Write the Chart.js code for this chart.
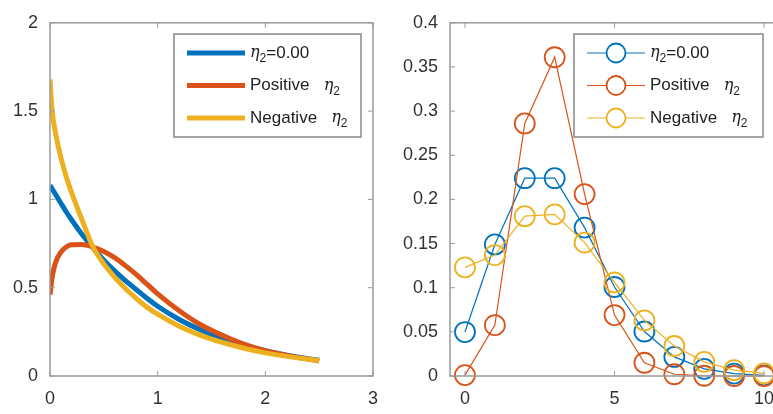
<!DOCTYPE html>
<html>
<head>
<meta charset="utf-8">
<script src="https://cdn.jsdelivr.net/npm/chart.js@4.4.1/dist/chart.umd.min.js"></script>
<style>
  html, body { margin: 0; padding: 0; background: #fff; overflow: hidden; }
  #wrap { position: relative; width: 773px; height: 414px; overflow: hidden; }
  #left { position: absolute; left: 0; top: 0; }
  #right { position: absolute; left: 390px; top: 0; }
</style>
</head>
<body>
<div id="wrap">
  <canvas id="left" width="390" height="414"></canvas>
  <canvas id="right" width="410" height="414"></canvas>
</div>
<script>
// left panel: continuous curves
const curveX = [0, 0.02, 0.05, 0.1, 0.15, 0.2, 0.3, 0.4, 0.5, 0.6, 0.7, 0.8, 0.9, 1.0, 1.2, 1.4, 1.6, 1.8, 2.0, 2.2, 2.5];
const curveZero = [1.08, 1.06, 1.03, 0.98, 0.93, 0.885, 0.80, 0.725, 0.655, 0.595, 0.54, 0.49, 0.44, 0.395, 0.32, 0.26, 0.212, 0.174, 0.143, 0.118, 0.089];
const curvePos = [0.46, 0.56, 0.64, 0.70, 0.73, 0.743, 0.745, 0.73, 0.705, 0.67, 0.625, 0.575, 0.52, 0.465, 0.37, 0.29, 0.23, 0.18, 0.143, 0.117, 0.085];
const curveNeg = [1.68, 1.50, 1.38, 1.24, 1.13, 1.04, 0.88, 0.73, 0.635, 0.56, 0.495, 0.44, 0.39, 0.35, 0.282, 0.23, 0.19, 0.157, 0.131, 0.111, 0.088];

// right panel: discrete probabilities
const countX = [0, 1, 2, 3, 4, 5, 6, 7, 8, 9, 10];
const probZero = [0.0498, 0.149, 0.224, 0.224, 0.168, 0.1008, 0.0504, 0.0216, 0.0081, 0.0027, 0.0008];
const probPos = [0.001, 0.0576, 0.286, 0.361, 0.206, 0.069, 0.015, 0.002, 0.0003, 0, 0];
const probNeg = [0.123, 0.137, 0.181, 0.183, 0.151, 0.106, 0.063, 0.034, 0.016, 0.0066, 0.003];

const seriesLabels = ["η₂=0.00", "Positive   η₂", "Negative   η₂"];
const colors = ["#0072BD", "#D95319", "#EDB120"];

const leftTicksX = [0, 1, 2, 3];
const leftTicksY = [0, 0.5, 1, 1.5, 2];
const rightTicksX = [0, 5, 10];
const rightTicksY = [0, 0.05, 0.1, 0.15, 0.2, 0.25, 0.3, 0.35, 0.4];

const FONT = "'Liberation Sans', Arial, sans-serif";

const pts = (xs, ys) => xs.map((x, i) => ({ x: x, y: ys[i] }));

// draws a label, replacing "η₂" with an italic eta and a lowered 2
function drawLabel(ctx, text, x, y) {
  const parts = text.split("η₂");
  let cx = x;
  ctx.textBaseline = "middle";
  ctx.textAlign = "left";
  parts.forEach((p, i) => {
    if (i > 0) {
      ctx.font = "italic 16px 'DejaVu Serif', serif";
      ctx.fillText("η", cx, y);
      cx += ctx.measureText("η").width;
      ctx.font = "12px " + FONT;
      ctx.fillText("2", cx, y + 6);
      cx += ctx.measureText("2").width;
    }
    if (p.length) {
      ctx.font = "17px " + FONT;
      ctx.fillStyle = "#222";
      ctx.fillText(p, cx, y);
      cx += ctx.measureText(p).width;
    }
  });
}

// box, inward ticks and legend
const frame = {
  id: "frame",
  afterDatasetsDraw(chart, args, opts) {
    const ctx = chart.ctx;
    const a = chart.chartArea;
    const sx = chart.scales.x, sy = chart.scales.y;
    ctx.save();
    ctx.strokeStyle = "#9a9a9a";
    ctx.lineWidth = 1.5;
    ctx.strokeRect(a.left, a.top, a.right - a.left, a.bottom - a.top);
    ctx.lineWidth = 1;
    const t = 5;
    sx.ticks.forEach((tk) => {
      const px = sx.getPixelForValue(tk.value);
      ctx.beginPath();
      ctx.moveTo(px, a.bottom); ctx.lineTo(px, a.bottom - t);
      ctx.moveTo(px, a.top); ctx.lineTo(px, a.top + t);
      ctx.stroke();
    });
    sy.ticks.forEach((tk) => {
      const py = sy.getPixelForValue(tk.value);
      ctx.beginPath();
      ctx.moveTo(a.left, py); ctx.lineTo(a.left + t, py);
      ctx.moveTo(a.right, py); ctx.lineTo(a.right - t, py);
      ctx.stroke();
    });

    // legend
    const L = opts.box;
    ctx.fillStyle = "#fff";
    ctx.fillRect(L.x, L.y, L.w, L.h);
    ctx.strokeStyle = "#888";
    ctx.lineWidth = 1.5;
    ctx.strokeRect(L.x, L.y, L.w, L.h);
    chart.data.datasets.forEach((ds, i) => {
      const ry = L.y + 19 + i * 32.5;
      ctx.strokeStyle = ds.borderColor;
      ctx.lineWidth = opts.markers ? 1 : 5;
      ctx.beginPath();
      ctx.moveTo(L.x + 13, ry);
      ctx.lineTo(L.x + 71, ry);
      ctx.stroke();
      if (opts.markers) {
        ctx.fillStyle = "#fff";
        ctx.lineWidth = 1.8;
        ctx.beginPath();
        ctx.arc(L.x + 42, ry, 9.5, 0, Math.PI * 2);
        ctx.fill();
        ctx.stroke();
      }
      ctx.fillStyle = "#222";
      drawLabel(ctx, ds.label, L.x + 76, ry);
    });
    ctx.restore();
  }
};

function fixTicks(vals) {
  return (scale) => { scale.ticks = vals.map((v) => ({ value: v })); };
}

function axisOpts(min, max, vals, extra) {
  return Object.assign({
    type: "linear",
    min: min,
    max: max,
    afterBuildTicks: fixTicks(vals),
    grid: { display: false, drawTicks: false },
    border: { display: false },
    ticks: {
      color: "#333",
      font: { family: FONT, size: 18 },
      padding: 12,
      callback: (v) => String(+Number(v).toFixed(3))
    }
  }, extra);
}

new Chart(document.getElementById("left").getContext("2d"), {
  type: "line",
  data: {
    datasets: [
      { label: seriesLabels[0], data: pts(curveX, curveZero), borderColor: colors[0], order: 2 },
      { label: seriesLabels[1], data: pts(curveX, curvePos), borderColor: colors[1], order: 1 },
      { label: seriesLabels[2], data: pts(curveX, curveNeg), borderColor: colors[2], order: 0 }
    ].map((d) => Object.assign(d, { borderWidth: 5, pointRadius: 0, cubicInterpolationMode: "monotone", fill: false }))
  },
  options: {
    responsive: false,
    animation: false,
    layout: { padding: { top: 15, right: 10, left: 0, bottom: 0 } },
    scales: {
      x: axisOpts(0, 3, leftTicksX, { afterFit: (s) => { s.height = 38; } }),
      y: axisOpts(0, 2, leftTicksY, { afterFit: (s) => { s.width = 50; } })
    },
    plugins: {
      legend: { display: false },
      tooltip: { enabled: false },
      frame: { box: { x: 174, y: 34, w: 187, h: 103 }, markers: false }
    }
  },
  plugins: [frame]
});

new Chart(document.getElementById("right").getContext("2d"), {
  type: "line",
  data: {
    datasets: [
      { label: seriesLabels[0], data: pts(countX, probZero), borderColor: colors[0], order: 2 },
      { label: seriesLabels[1], data: pts(countX, probPos), borderColor: colors[1], order: 1 },
      { label: seriesLabels[2], data: pts(countX, probNeg), borderColor: colors[2], order: 0 }
    ].map((d) => Object.assign(d, {
      borderWidth: 1.2, tension: 0, pointRadius: 10, pointBorderWidth: 1.8,
      pointBackgroundColor: "rgba(0,0,0,0)", pointBorderColor: d.borderColor, fill: false, clip: false
    }))
  },
  options: {
    responsive: false,
    animation: false,
    layout: { padding: { top: 15, right: 21, left: 0, bottom: 0 } },
    scales: {
      x: axisOpts(-0.5, 10.5, rightTicksX, { afterFit: (s) => { s.height = 38; } }),
      y: axisOpts(0, 0.4, rightTicksY, { afterFit: (s) => { s.width = 60; } })
    },
    plugins: {
      legend: { display: false },
      tooltip: { enabled: false },
      frame: { box: { x: 184, y: 34, w: 189, h: 103 }, markers: true }
    }
  },
  plugins: [frame]
});
</script>
</body>
</html>
